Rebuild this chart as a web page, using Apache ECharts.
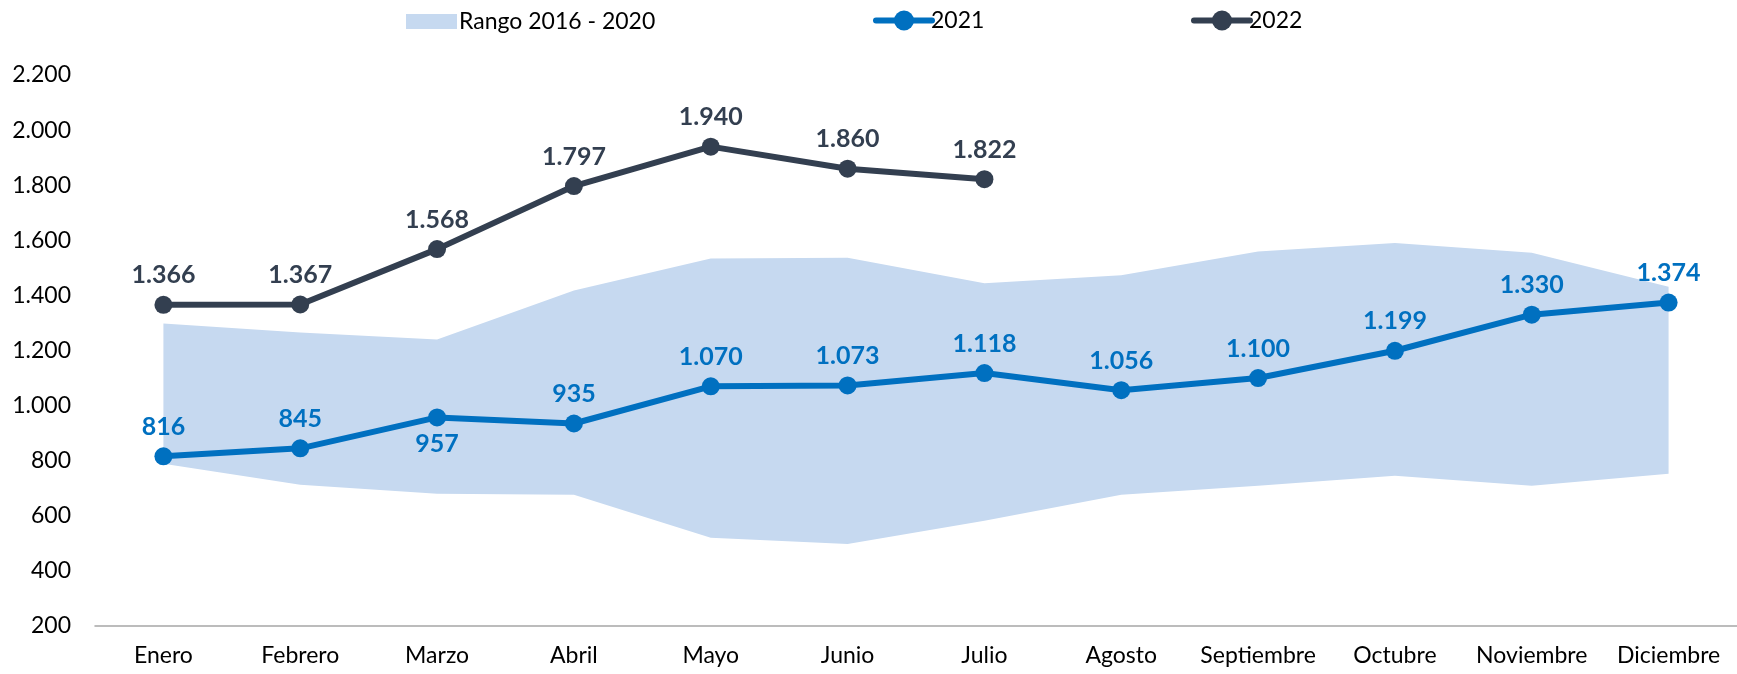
<!DOCTYPE html>
<html>
<head>
<meta charset="utf-8">
<script src="https://cdn.jsdelivr.net/npm/echarts@6/dist/echarts.min.js"></script>
<style>
  html, body { margin: 0; padding: 0; background: #fff; }
  #chart { width: 1737px; height: 674px; }
</style>
</head>
<body>
<div id="chart"></div>
<script>
const meses = ['Enero', 'Febrero', 'Marzo', 'Abril', 'Mayo', 'Junio', 'Julio',
  'Agosto', 'Septiembre', 'Octubre', 'Noviembre', 'Diciembre']

// rango 2016 - 2020 (min / max)
const rangoMin = [789, 713, 680, 676, 520, 498, 582, 676, 709, 745, 709, 753]
const rangoMax = [1298, 1265, 1240, 1418, 1534, 1537, 1444, 1473, 1559, 1590, 1555, 1431]

const datos2021 = [816, 845, 957, 935, 1070, 1073, 1118, 1056, 1100, 1199, 1330, 1374]
const datos2022 = [1366, 1367, 1568, 1797, 1940, 1860, 1822]

const yMin = 200
const yMax = 2200
const yPaso = 200

const fuente = 'Lato'

// separador de miles con punto
const fmt = (v) => String(Math.round(v)).replace(/\B(?=(\d{3})+(?!\d))/g, '.')

const chart = echarts.init(document.getElementById('chart'))

const etiqueta = (color) => ({
  show: true,
  position: 'top',
  distance: 8,
  color: color,
  fontFamily: fuente,
  fontWeight: 'bold',
  fontSize: 25,
  formatter: (p) => fmt(p.value)
})

// la etiqueta de marzo 2021 va debajo del punto
const serie2021 = datos2021.map((v, i) => i === 2
  ? { value: v, label: { position: 'bottom', distance: 5 } }
  : v)

const legendaBase = {
  top: 4,
  itemHeight: 25,
  lineStyle: { width: 6, cap: 'round' },
  textStyle: { fontFamily: fuente, fontSize: 23, color: '#000', padding: [0, 0, 0, -6] }
}

chart.setOption({
  backgroundColor: '#fff',
  animation: false,
  legend: [
    Object.assign({}, legendaBase, { left: 401, itemWidth: 51, itemHeight: 15, top: 5, icon: 'rect',
      textStyle: { fontFamily: fuente, fontSize: 23, color: '#000', padding: [0, 0, 0, -3] },
      data: ['Rango 2016 - 2020'] }),
    Object.assign({}, legendaBase, { left: 868, itemWidth: 56, data: ['2021'] }),
    Object.assign({}, legendaBase, { left: 1186, itemWidth: 56, data: ['2022'] })
  ],
  grid: {
    left: 95,
    right: -10,
    top: 75,
    bottom: 48,
    containLabel: false
  },
  xAxis: {
    type: 'category',
    boundaryGap: true,
    data: meses,
    axisLine: { lineStyle: { color: '#a6a6a6', width: 1.5 } },
    axisTick: { show: false },
    axisLabel: { color: '#000', fontFamily: fuente, fontSize: 23, margin: 18, interval: 0 }
  },
  yAxis: {
    type: 'value',
    min: yMin,
    max: yMax,
    interval: yPaso,
    axisLine: { show: false },
    axisTick: { show: false },
    splitLine: { show: false },
    axisLabel: {
      color: '#000',
      fontFamily: fuente,
      fontSize: 23,
      margin: 24,
      formatter: (v) => fmt(v)
    }
  },
  series: [
    {
      name: 'base',
      type: 'line',
      stack: 'rango',
      data: rangoMin,
      symbol: 'none',
      lineStyle: { width: 0, opacity: 0 },
      silent: true
    },
    {
      name: 'Rango 2016 - 2020',
      type: 'line',
      stack: 'rango',
      data: rangoMax.map((v, i) => v - rangoMin[i]),
      symbol: 'none',
      itemStyle: { color: '#c6d9f0' },
      lineStyle: { width: 0, opacity: 0 },
      areaStyle: { color: '#c6d9f0', opacity: 1 },
      silent: true
    },
    {
      name: '2021',
      type: 'line',
      data: serie2021,
      symbol: 'circle',
      symbolSize: 18,
      itemStyle: { color: '#0070c0' },
      lineStyle: { color: '#0070c0', width: 6 },
      label: etiqueta('#0070c0'),
      z: 3
    },
    {
      name: '2022',
      type: 'line',
      data: datos2022,
      symbol: 'circle',
      symbolSize: 18,
      itemStyle: { color: '#333f50' },
      lineStyle: { color: '#333f50', width: 6 },
      label: etiqueta('#333f50'),
      z: 4
    }
  ]
})
</script>
</body>
</html>
